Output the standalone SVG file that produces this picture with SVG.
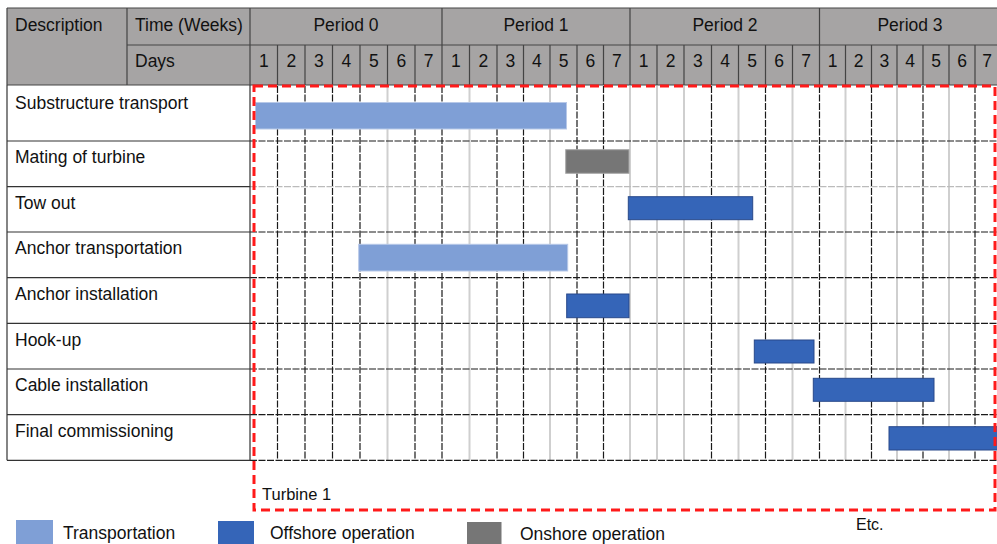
<svg xmlns="http://www.w3.org/2000/svg" width="997" height="544" viewBox="0 0 997 544">
<style>
text{font-family:"Liberation Sans","Open Sans",sans-serif;font-size:17.5px;fill:#111}
.c{text-anchor:middle}
.hfill{fill:#a6a4a4}
.hl{stroke:#444;stroke-width:1.2;fill:none}
.vd{stroke:#1a1a1a;stroke-width:1.2;stroke-dasharray:7 1.5}
.vg{stroke:#cfcfcf;stroke-width:2}
.hr{stroke:#1a1a1a;stroke-width:1.2;stroke-dasharray:7 1.5}
.lc{stroke:#333;stroke-width:1.2}
.tr{fill:#7f9fd6;stroke:#b7c8e8;stroke-width:1}
.off{fill:#3565b8;stroke:#28498a;stroke-width:1}
.on{fill:#767676;stroke:#a8a8a8;stroke-width:1}
.red{fill:none;stroke:#ff1a1a;stroke-width:3;stroke-dasharray:9 5}
</style>
<rect width="997" height="544" fill="#fff"/>
<g id="header">
<rect class="hfill" x="7" y="8" width="990" height="77"/>
<line class="hl" x1="7" y1="8" x2="997" y2="8"/>
<line class="hl" x1="127" y1="45" x2="997" y2="45"/>
<line class="hl" x1="7" y1="85" x2="997" y2="85"/>
<line class="hl" x1="7" y1="8" x2="7" y2="85"/>
<line class="hl" x1="127" y1="8" x2="127" y2="85"/>
<line class="hl" x1="250" y1="8" x2="250" y2="85"/>
<line class="hl" x1="442" y1="8" x2="442" y2="85"/>
<line class="hl" x1="630" y1="8" x2="630" y2="85"/>
<line class="hl" x1="819.5" y1="8" x2="819.5" y2="85"/>
<g class="hl">
<line x1="277.5" y1="45" x2="277.5" y2="85"/><line x1="305" y1="45" x2="305" y2="85"/><line x1="332.5" y1="45" x2="332.5" y2="85"/><line x1="360" y1="45" x2="360" y2="85"/><line x1="387.5" y1="45" x2="387.5" y2="85"/><line x1="415" y1="45" x2="415" y2="85"/>
<line x1="469.5" y1="45" x2="469.5" y2="85"/><line x1="497" y1="45" x2="497" y2="85"/><line x1="523.5" y1="45" x2="523.5" y2="85"/><line x1="550" y1="45" x2="550" y2="85"/><line x1="577" y1="45" x2="577" y2="85"/><line x1="603.5" y1="45" x2="603.5" y2="85"/>
<line x1="657" y1="45" x2="657" y2="85"/><line x1="684" y1="45" x2="684" y2="85"/><line x1="711.5" y1="45" x2="711.5" y2="85"/><line x1="738.5" y1="45" x2="738.5" y2="85"/><line x1="765.5" y1="45" x2="765.5" y2="85"/><line x1="792.5" y1="45" x2="792.5" y2="85"/>
<line x1="845.5" y1="45" x2="845.5" y2="85"/><line x1="871.5" y1="45" x2="871.5" y2="85"/><line x1="897" y1="45" x2="897" y2="85"/><line x1="923" y1="45" x2="923" y2="85"/><line x1="949" y1="45" x2="949" y2="85"/><line x1="975" y1="45" x2="975" y2="85"/>
</g>
<text x="15" y="31">Description</text>
<text x="135" y="31">Time (Weeks)</text>
<text x="135" y="67">Days</text>
<text class="c" x="346" y="31">Period 0</text>
<text class="c" x="536" y="31">Period 1</text>
<text class="c" x="725" y="31">Period 2</text>
<text class="c" x="910" y="31">Period 3</text>
<g>
<text class="c" x="263.8" y="67">1</text><text class="c" x="291.3" y="67">2</text><text class="c" x="318.8" y="67">3</text><text class="c" x="346.3" y="67">4</text><text class="c" x="373.8" y="67">5</text><text class="c" x="401.3" y="67">6</text><text class="c" x="428.5" y="67">7</text>
<text class="c" x="455.8" y="67">1</text><text class="c" x="483.3" y="67">2</text><text class="c" x="510.3" y="67">3</text><text class="c" x="536.8" y="67">4</text><text class="c" x="563.5" y="67">5</text><text class="c" x="590.3" y="67">6</text><text class="c" x="616.8" y="67">7</text>
<text class="c" x="643.5" y="67">1</text><text class="c" x="670.5" y="67">2</text><text class="c" x="697.8" y="67">3</text><text class="c" x="725" y="67">4</text><text class="c" x="752" y="67">5</text><text class="c" x="779" y="67">6</text><text class="c" x="806" y="67">7</text>
<text class="c" x="832.5" y="67">1</text><text class="c" x="858.5" y="67">2</text><text class="c" x="884.3" y="67">3</text><text class="c" x="910" y="67">4</text><text class="c" x="936" y="67">5</text><text class="c" x="962" y="67">6</text><text class="c" x="987" y="67">7</text>
</g>
</g>
<g id="grid">
<g class="vg">
<line x1="387.5" y1="86" x2="387.5" y2="460"/><line x1="469.5" y1="86" x2="469.5" y2="460"/><line x1="550" y1="86" x2="550" y2="460"/><line x1="630" y1="86" x2="630" y2="460"/><line x1="657" y1="86" x2="657" y2="460"/><line x1="684" y1="86" x2="684" y2="460"/><line x1="738.5" y1="86" x2="738.5" y2="460"/><line x1="792.5" y1="86" x2="792.5" y2="460"/><line x1="845.5" y1="86" x2="845.5" y2="460"/><line x1="897" y1="86" x2="897" y2="460"/><line x1="949" y1="86" x2="949" y2="460"/>
</g>
<g class="vd">
<line x1="277.5" y1="86" x2="277.5" y2="460"/><line x1="305" y1="86" x2="305" y2="460"/><line x1="332.5" y1="86" x2="332.5" y2="460"/><line x1="360" y1="86" x2="360" y2="460"/><line x1="415" y1="86" x2="415" y2="460"/><line x1="442" y1="86" x2="442" y2="460"/><line x1="497" y1="86" x2="497" y2="460"/><line x1="523.5" y1="86" x2="523.5" y2="460"/><line x1="577" y1="86" x2="577" y2="460"/><line x1="603.5" y1="86" x2="603.5" y2="460"/><line x1="711.5" y1="86" x2="711.5" y2="460"/><line x1="765.5" y1="86" x2="765.5" y2="460"/><line x1="819.5" y1="86" x2="819.5" y2="460"/><line x1="871.5" y1="86" x2="871.5" y2="460"/><line x1="923" y1="86" x2="923" y2="460"/><line x1="975" y1="86" x2="975" y2="460"/>
</g>
<g class="hr">
<line x1="250" y1="141" x2="997" y2="141"/><line x1="250" y1="186.7" x2="997" y2="186.7" style="stroke:#bbb"/><line x1="250" y1="232" x2="997" y2="232"/><line x1="250" y1="277.7" x2="997" y2="277.7"/><line x1="250" y1="323.3" x2="997" y2="323.3"/><line x1="250" y1="369" x2="997" y2="369"/><line x1="250" y1="414.7" x2="997" y2="414.7"/><line x1="250" y1="460.3" x2="997" y2="460.3"/>
</g>
<g class="lc">
<line x1="7" y1="85" x2="7" y2="460.3"/><line x1="250" y1="85" x2="250" y2="460.3"/>
<line x1="7" y1="141" x2="250" y2="141"/><line x1="7" y1="186.7" x2="250" y2="186.7"/><line x1="7" y1="232" x2="250" y2="232"/><line x1="7" y1="277.7" x2="250" y2="277.7"/><line x1="7" y1="323.3" x2="250" y2="323.3"/><line x1="7" y1="369" x2="250" y2="369"/><line x1="7" y1="414.7" x2="250" y2="414.7"/><line x1="7" y1="460.3" x2="250" y2="460.3"/>
</g>
</g>
<g id="row-substructure"><text x="15" y="109">Substructure transport</text><rect class="tr" x="255.5" y="102.5" width="311" height="26.5"/></g>
<g id="row-mating"><text x="15" y="163">Mating of turbine</text><rect class="on" x="565.7" y="149.7" width="63.3" height="23.6"/></g>
<g id="row-towout"><text x="15" y="209">Tow out</text><rect class="off" x="628.3" y="196.7" width="124.4" height="23"/></g>
<g id="row-anchor-transport"><text x="15" y="254">Anchor transportation</text><rect class="tr" x="358.7" y="244.3" width="209" height="26.7"/></g>
<g id="row-anchor-install"><text x="15" y="300">Anchor installation</text><rect class="off" x="566.7" y="294" width="62.3" height="23.7"/></g>
<g id="row-hookup"><text x="15" y="346">Hook-up</text><rect class="off" x="754.3" y="340" width="59.7" height="23"/></g>
<g id="row-cable"><text x="15" y="391">Cable installation</text><rect class="off" x="813.3" y="378.3" width="120.7" height="23"/></g>
<g id="row-final"><text x="15" y="437">Final commissioning</text><rect class="off" x="889" y="426.7" width="110" height="23.3"/></g>
<g id="turbine1">
<rect class="red" x="254" y="86" width="741" height="424"/>
<text x="262" y="500" style="font-size:16.5px">Turbine 1</text>
</g>
<g id="etc"><text x="856" y="530" style="font-size:16px">Etc.</text></g>
<g id="legend">
<rect x="16" y="520" width="37" height="26" fill="#7f9fd6"/>
<text x="63" y="539">Transportation</text>
<rect x="218" y="521" width="36" height="25" fill="#3565b8"/>
<text x="270" y="539">Offshore operation</text>
<rect x="467" y="522" width="34.5" height="24" fill="#767676"/>
<text x="520" y="539.5">Onshore operation</text>
</g>
</svg>
